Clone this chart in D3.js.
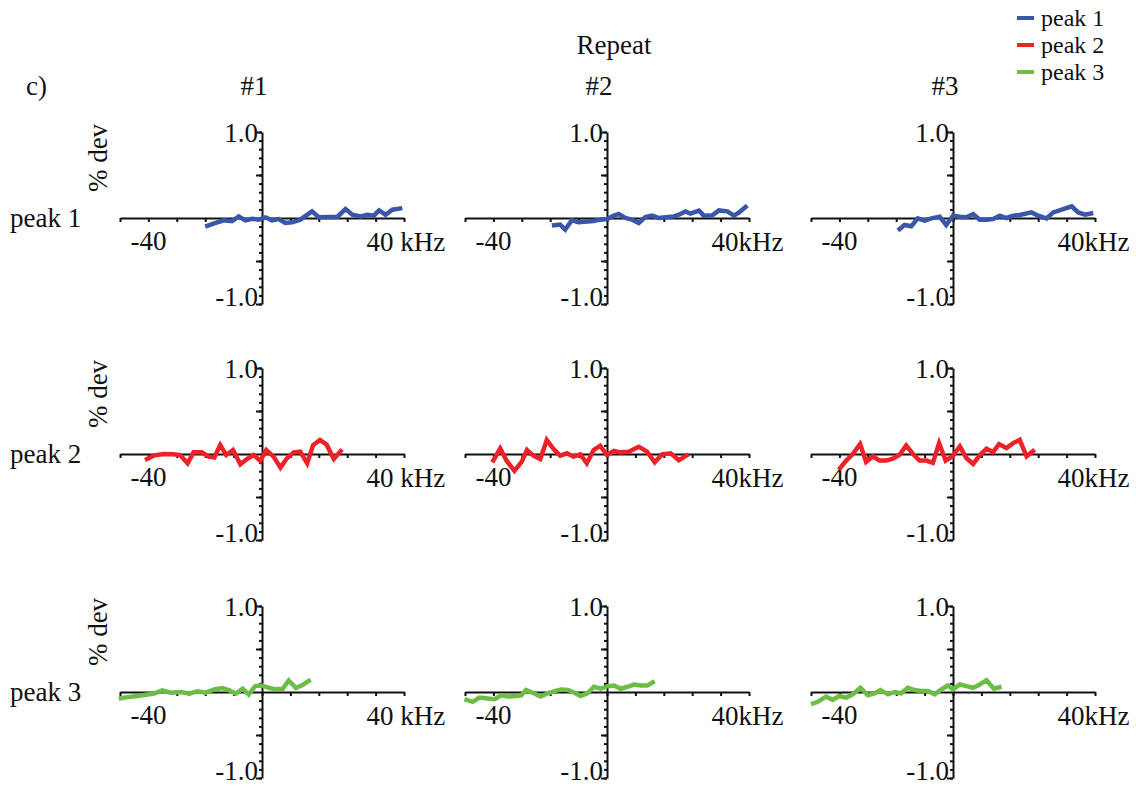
<!DOCTYPE html>
<html>
<head>
<meta charset="utf-8">
<script src="https://cdn.jsdelivr.net/npm/d3@7"></script>
<style>
  body { margin: 0; background: #fff; }
  text { font-family: "Liberation Serif", "Times New Roman", serif; fill: #111; }
</style>
</head>
<body>
<div id="chart"></div>
<script>
/* % deviation of each peak vs frequency offset, three repeats */

// DATA (frequency offset in kHz, deviation in %)
const repeats = ["#1", "#2", "#3"];
const peaks = ["peak 1", "peak 2", "peak 3"];
const colors = ["#3a56a8", "#ec2228", "#6cbd45"];

const freqP1R1 = [-20, -17.1, -13.5, -10.6, -8.2, -5.9, -3.5, -1.2, 1.2, 3.5, 5.9, 8.2, 10.6, 13.5, 17.6, 20, 22.9, 26.5, 29.4, 31.8, 34.7, 37.1, 39.4, 41.2, 43.5, 45.9, 49.4];
const devP1R1  = [-0.10, -0.065, -0.027, -0.038, 0.019, -0.027, -0.008, -0.019, 0.008, -0.027, -0.012, -0.058, -0.05, -0.019, 0.077, 0.008, 0.012, 0.012, 0.104, 0.038, 0.019, 0.038, 0.027, 0.088, 0.038, 0.096, 0.115];

const freqP1R2 = [-19.4, -16.5, -14.7, -12.4, -10, -7.1, -4.7, -2.4, 0, 2.4, 4.1, 6.5, 8.8, 11.2, 13.5, 15.9, 18.2, 20.6, 23.5, 25.3, 27.6, 29.4, 32.4, 34.1, 37.1, 39.4, 42.4, 44.7, 46.5, 49.4];
const devP1R2  = [-0.088, -0.077, -0.135, -0.027, -0.05, -0.042, -0.035, -0.019, -0.012, 0.027, 0.046, 0, -0.019, -0.058, 0.012, 0.027, 0, 0.008, 0.019, 0.038, 0.077, 0.05, 0.085, 0.027, 0.031, 0.088, 0.077, 0.027, 0.065, 0.146];

const freqP1R3 = [-19.4, -17.1, -14.7, -12.4, -10, -7.6, -4.7, -2.4, 0, 2.4, 4.7, 7.1, 9.4, 11.8, 14.1, 16.5, 18.8, 21.2, 23.5, 27.6, 30, 32.9, 35.3, 38.8, 41.8, 44.1, 46.5, 49.4];
const devP1R3  = [-0.146, -0.081, -0.096, -0.004, -0.031, -0.004, 0.015, -0.081, 0.027, 0.015, 0.008, 0.046, -0.019, -0.019, -0.012, 0.027, 0, 0.027, 0.035, 0.065, 0.027, -0.004, 0.065, 0.104, 0.135, 0.065, 0.038, 0.058];

const freqP2R1 = [-41.2, -38.2, -34.7, -31.2, -28.8, -26.2, -24.1, -21.2, -18.8, -16.8, -14.7, -12.6, -10.2, -7.6, -5.3, -2.9, -0.6, 1.5, 4.1, 6.5, 8.8, 11.2, 13.5, 15.9, 18, 20.4, 22.7, 25.3, 28.2];
const devP2R1  = [-0.069, -0.019, 0, -0.004, -0.012, -0.108, 0.019, 0.019, -0.031, -0.042, 0.104, -0.012, 0.046, -0.119, -0.058, -0.012, -0.081, 0.046, -0.031, -0.158, -0.05, 0.019, 0.027, -0.108, 0.104, 0.162, 0.112, -0.058, 0.054];

const freqP2R2 = [-40.4, -37.6, -35.3, -32.6, -30, -28.2, -25.9, -23.5, -21.2, -18.8, -16.5, -14.1, -11.8, -9.4, -7.1, -4.7, -2.4, 0, 2.4, 4.7, 7.6, 11.2, 14.1, 16.8, 19.4, 22.4, 25.3, 28.6];
const devP2R2  = [-0.096, 0.065, -0.081, -0.196, -0.088, 0.046, -0.019, -0.058, 0.162, 0.058, -0.019, 0.008, -0.031, -0.004, -0.108, 0.046, 0.096, -0.012, 0.035, 0.019, 0.027, 0.085, 0.027, -0.096, -0.004, 0.008, -0.073, -0.004];

const freqP2R3 = [-40.2, -37.6, -35.3, -32.7, -30.6, -28.2, -25.9, -23.5, -21.2, -18.8, -16.5, -14.1, -11.8, -9.4, -7.1, -4.9, -2.6, -0.2, 2.4, 4.7, 7.1, 9.4, 11.8, 14.1, 16.2, 18.8, 21.2, 23.5, 25.9, 28.8];
const devP2R3  = [-0.181, -0.077, 0, 0.115, -0.092, -0.027, -0.077, -0.077, -0.054, -0.008, 0.1, 0, -0.077, -0.077, -0.104, 0.127, -0.077, -0.027, 0.088, -0.046, -0.115, -0.015, 0.062, 0.023, 0.115, 0.069, 0.127, 0.165, -0.027, 0.05];

const freqP3R1 = [-50.4, -46.8, -43.9, -40.9, -38, -35.1, -32.1, -28.6, -25.6, -22.7, -19.8, -16.8, -13.9, -11.5, -9.2, -6.8, -4.7, -2.4, 0, 2.6, 4.9, 7.3, 9.4, 12, 14.4, 17.1];
const devP3R1  = [-0.076, -0.057, -0.046, -0.031, -0.019, 0.019, -0.008, 0, -0.019, 0.008, -0.008, 0.031, 0.046, 0.019, -0.019, 0.038, -0.031, 0.069, 0.076, 0.046, 0.031, 0.038, 0.134, 0.046, 0.084, 0.145];

const freqP3R2 = [-50.2, -47.3, -44.9, -42, -39.6, -37.3, -34.9, -32, -30.2, -28.5, -25.8, -23.4, -20.8, -18.5, -16.1, -13.8, -11.4, -9.3, -6.9, -4.6, -2.2, 0.1, 2.5, 4.8, 7.2, 9.5, 11.9, 14.2, 16.8];
const devP3R2  = [-0.084, -0.114, -0.065, -0.076, -0.084, -0.038, -0.053, -0.046, -0.038, 0.023, -0.015, -0.053, -0.015, 0.011, 0.03, 0.023, -0.008, -0.046, -0.015, 0.061, 0.038, 0.068, 0.076, 0.038, 0.061, 0.087, 0.076, 0.076, 0.125];

const freqP3R3 = [-50, -47.6, -44.7, -42.4, -40, -37.6, -35.3, -32.6, -30, -27.6, -25.5, -22.9, -20.6, -18.2, -15.9, -13.5, -11.2, -8.8, -6.5, -4.1, -1.8, 0, 2.4, 4.7, 7.1, 9.4, 11.8, 14.4, 17.1];
const devP3R3  = [-0.141, -0.114, -0.053, -0.091, -0.046, -0.065, -0.027, 0.049, -0.038, -0.015, 0.023, -0.027, 0, -0.015, 0.049, 0.023, 0.011, 0.011, -0.027, 0.03, 0.076, 0.03, 0.087, 0.068, 0.049, 0.087, 0.137, 0.038, 0.061];

// panel table: rows = peaks, cols = repeats
const freqs = [[freqP1R1, freqP1R2, freqP1R3], [freqP2R1, freqP2R2, freqP2R3], [freqP3R1, freqP3R2, freqP3R3]];
const devs  = [[devP1R1, devP1R2, devP1R3], [devP2R1, devP2R2, devP2R3], [devP3R1, devP3R2, devP3R3]];

const xTicks = [-50, -40, -30, -20, -10, 0, 10, 20, 30, 40, 50];
const yMinorTicks = [-1, -0.9, -0.8, -0.7, -0.6, -0.5, -0.4, -0.3, -0.2, -0.1, 0.1, 0.2, 0.3, 0.4, 0.5, 0.6, 0.7, 0.8, 0.9, 1];
const yMajorTicks = [-1, -0.5, 0.5, 1];

/* SET UP */
const width = 1136, height = 787;
const colX = [262, 607, 953];   // where the y axis of each column sits
const rowY = [218, 454, 692];   // where the zero line of each row sits
const halfW = 142, halfH = 86;
const fs = "27px";

let svg = d3.select("#chart")
    .append("svg")
    .attr("width", width)
    .attr("height", height)
    .attr("viewBox", [0, 0, width, height]);

// headers
svg.append("text").attr("x", 614).attr("y", 54).attr("text-anchor", "middle")
    .style("font-size", fs).text("Repeat");
svg.append("text").attr("x", 26).attr("y", 95)
    .style("font-size", fs).text("c)");
repeats.forEach((r, j) => {
    svg.append("text").attr("x", colX[j] - 8).attr("y", 95).attr("text-anchor", "middle")
        .style("font-size", fs).text(r);
});

peaks.forEach((p, i) => {
    svg.append("text").attr("x", 10).attr("y", rowY[i] + 9)
        .style("font-size", fs).text(p);
    svg.append("text")
        .attr("transform", `translate(${107}, ${rowY[i] - 60}) rotate(-90)`)
        .attr("text-anchor", "middle")
        .style("font-size", fs).text("% dev");
});

// panels
for (let i = 0; i < 3; i++) {
    for (let j = 0; j < 3; j++) {
        let x = d3.scaleLinear()
            .domain([-50, 50])
            .range([colX[j] - halfW, colX[j] + halfW]);
        let y = d3.scaleLinear()
            .domain([-1, 1])
            .range([rowY[i] + halfH, rowY[i] - halfH]);

        let g = svg.append("g");

        g.append("g")
            .attr("transform", `translate(0, ${y(0)})`)
            .call(d3.axisBottom(x).tickValues(xTicks).tickSize(4).tickSizeOuter(0).tickFormat(""))
            .call(a => a.selectAll("path, line").attr("stroke", "#111").attr("stroke-width", 2));

        g.append("g")
            .attr("transform", `translate(${x(0)}, 0)`)
            .call(d3.axisLeft(y).tickValues(yMinorTicks).tickSize(3).tickSizeOuter(0).tickFormat(""))
            .call(a => a.selectAll("path, line").attr("stroke", "#111").attr("stroke-width", 2));

        g.append("g")
            .attr("transform", `translate(${x(0)}, 0)`)
            .call(d3.axisLeft(y).tickValues(yMajorTicks).tickSize(6).tickSizeOuter(0).tickFormat(""))
            .call(a => a.select(".domain").remove())
            .call(a => a.selectAll("line").attr("stroke", "#111").attr("stroke-width", 2));

        // tick labels
        g.append("text").attr("x", x(0) - 4).attr("y", y(1) + 10).attr("text-anchor", "end")
            .style("font-size", fs).text("1.0");
        g.append("text").attr("x", x(0) - 4).attr("y", y(-1) + 2).attr("text-anchor", "end")
            .style("font-size", fs).text("-1.0");
        g.append("text").attr("x", x(-40)).attr("y", y(0) + 32).attr("text-anchor", "middle")
            .style("font-size", fs).text("-40");
        g.append("text").attr("x", x(40) - 9).attr("y", y(0) + 33)
            .style("font-size", fs).text(j === 0 ? "40 kHz" : "40kHz");

        // data line
        let pts = freqs[i][j].map((f, k) => [f, devs[i][j][k]]);
        g.append("path")
            .datum(pts)
            .attr("fill", "none")
            .attr("stroke", colors[i])
            .attr("stroke-width", 4.5)
            .attr("stroke-linejoin", "miter")
            .attr("d", d3.line().x(d => x(d[0])).y(d => y(d[1])));
    }
}

// legend
let legend = svg.append("g");
peaks.forEach((p, i) => {
    legend.append("line")
        .attr("x1", 1017).attr("x2", 1034)
        .attr("y1", 18 + i * 27).attr("y2", 18 + i * 27)
        .attr("stroke", colors[i]).attr("stroke-width", 4);
    legend.append("text").attr("x", 1041).attr("y", 26 + i * 27)
        .style("font-size", "24px").text(p);
});
</script>
</body>
</html>
